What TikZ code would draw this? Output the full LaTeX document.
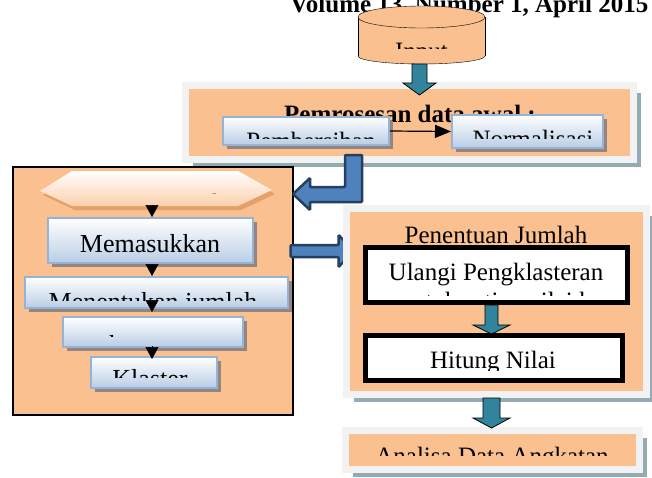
\documentclass[tikz,border=0pt]{standalone}
\usepackage{fontspec}
\setmainfont{Liberation Serif}
\usepackage{tikz}
\usetikzlibrary{arrows.meta,calc,positioning,shadows}
\definecolor{peach}{HTML}{FAC090}
\definecolor{panelgray}{HTML}{F2F2F2}
\definecolor{panelshadow}{HTML}{93ABB2}
\definecolor{boxblue}{HTML}{B9CDE5}
\definecolor{boxedge}{HTML}{95B3D7}
\definecolor{boxshadow}{HTML}{958580}
\definecolor{hexshadow}{HTML}{E3A06A}
\definecolor{tealfill}{HTML}{31849B}
\definecolor{navyfill}{HTML}{4F81BD}
\definecolor{navyedge}{HTML}{243F60}

\begin{document}
\begin{tikzpicture}[x=1pt,y=-1pt,font=\fontsize{25}{30}\selectfont,
  panel/.style={draw=panelgray,line width=7pt,fill=peach,inner sep=0pt,drop shadow={shadow xshift=7.5pt,shadow yshift=-7.5pt,fill=panelshadow,opacity=1}},
  bluebox/.style={draw=boxedge,line width=2pt,top color=white,bottom color=boxblue,inner sep=0pt,drop shadow={shadow xshift=4pt,shadow yshift=-4pt,fill=boxshadow,opacity=1}},
  whitebox/.style={draw=black,line width=5pt,fill=white,inner sep=0pt},
  hexa/.style={top color=white,bottom color=peach!75,drop shadow={shadow xshift=3pt,shadow yshift=-4pt,fill=hexshadow,opacity=1}},
  tealarrow/.style={fill=tealfill,draw=black,line width=0.8pt},
  navyarrow/.style={fill=navyfill,draw=navyedge,line width=2.5pt,rounded corners=1pt},
  tri/.style={-{Triangle[width=13pt,length=12pt]},line width=0.5pt},
  txt/.style={anchor=base,inner sep=0pt},
  colfont/.style={font=\fontsize{26}{30}\selectfont}]
\useasboundingbox (0,0) rectangle (652,477);
\clip (0,0) rectangle (652,477);
\node[anchor=base west,inner sep=0pt,font=\fontsize{25}{30}\selectfont\bfseries] (hdr) at (290,12) {Volume 13, Number 1, April 2015};

\draw[fill=peach] (421.5,56) ellipse[x radius=63.5,y radius=8];
\fill[peach] (358,17) rectangle (485,56);
\draw (358,17) -- (358,56) (485,17) -- (485,56);
\draw[fill=peach] (421.5,17) ellipse[x radius=63.5,y radius=11];
\begin{scope}\clip (358,30) rectangle (485,48); \node[txt] (inlbl) at (421.5,59) {Input}; \end{scope}
\coordinate (inbot) at (419.5,64);

\node[panel,minimum width=448,minimum height=74] (pre) at (409.5,122.5) {};
\draw[tealarrow,shift={(inbot)}] (-7.5,0) -- (-7.5,19) -- (-16.5,19) -- (0,31) -- (16.5,19) -- (7.5,19) -- (7.5,0) -- cycle;
\node[txt,font=\fontsize{25}{30}\selectfont\bfseries] (pretitle) at (410,122) {Pemrosesan data awal :};
\node[bluebox,minimum width=166,minimum height=28] (pemb) at (306,131) {};
\begin{scope}\clip (224,118) rectangle (388,138); \node[txt] (pembtxt) at (311,149) {Pembersihan}; \end{scope}
\node[bluebox,minimum width=151,minimum height=33] (norm) at (527.5,131.5) {};
\begin{scope}\clip (453,116) rectangle (602,138); \node[txt] (normtxt) at (533,147) {Normalisasi}; \end{scope}
\draw[-{Triangle[width=13pt,length=16pt]},line width=1.2pt] (pemb.east) -- (norm.west);

\node[draw,line width=1.2pt,fill=peach,minimum width=280,minimum height=248,inner sep=0pt] (flow) at (153,291) {};
\coordinate (elb) at (353.5,155);
\draw[navyarrow,shift={(elb)}] (-8.5,0) -- (8.5,0) -- (8.5,47) -- (-43.5,47) -- (-43.5,55) -- (-60.5,39) -- (-43.5,23) -- (-43.5,32) -- (-8.5,32) -- cycle;

\path[hexa] (40,191) -- (72,171) -- (238,171) -- (272,190) -- (238,206) -- (72,206) -- cycle;
\begin{scope}\clip (40,171) rectangle (272,193); \node[txt] (hextxt) at (160,211) {Data Mentah}; \end{scope}
\coordinate (hexbot) at (152,206);

\node[bluebox,minimum width=205,minimum height=45] (mem) at (150.5,240.5) {};
\node[txt,colfont] (memtxt) at (150,252) {Memasukkan};
\node[bluebox,minimum width=263,minimum height=31] (ment) at (156.5,292.5) {};
\begin{scope}\clip (26,278) rectangle (287,300); \node[txt,colfont] (menttxt) at (153,310) {Menentukan jumlah}; \end{scope}
\node[bluebox,minimum width=180,minimum height=30] (km) at (153,332) {};
\begin{scope}\clip (64,318) rectangle (242,336); \node[txt,colfont] (kmtxt) at (153,353) {k-means}; \end{scope}
\node[bluebox,minimum width=126,minimum height=31] (kl) at (154,372.5) {};
\begin{scope}\clip (92,358) rectangle (216,377); \node[txt,colfont] (kltxt) at (150,387) {Klaster}; \end{scope}
\draw[tri] (hexbot) -- (mem.north -| hexbot);
\draw[tri] (mem.south -| hexbot) -- (ment.north -| hexbot);
\draw[tri] ([yshift=8pt]ment.south -| hexbot) -- ([yshift=4pt]km.north -| hexbot);
\draw[tri] ([yshift=2pt]km.south -| hexbot) -- ([yshift=-3pt]kl.north -| hexbot);

\path (flow.east) ++(-3,-40) coordinate (rarr);
\draw[navyarrow,shift={(rarr)}] (0,-6) -- (48,-6) -- (48,-16) -- (63,0) -- (48,16) -- (48,6) -- (0,6) -- cycle;

\node[panel,minimum width=300,minimum height=186] (pen) at (496.5,301.5) {};
\node[txt] (pentitle) at (496,243) {Penentuan Jumlah};
\node[whitebox,minimum width=262,minimum height=55] (ul) at (496.5,275) {};
\node[txt] (ultxt) at (496,280) {Ulangi Pengklasteran};
\begin{scope}\clip (368,252) rectangle (625,295); \node[txt] (ultxtb) at (496,309) {untuk setiap nilai k}; \end{scope}
\node[whitebox,minimum width=257,minimum height=45] (hit) at (494,358) {};
\begin{scope}\clip (368,338) rectangle (620,370); \node[txt] (hittxt) at (493,368) {Hitung Nilai}; \end{scope}
\draw[tealarrow,shift={([xshift=-5pt]ul.south)}] (-6.5,0) -- (-6.5,20) -- (-18.5,20) -- (0,29) -- (18.5,20) -- (6.5,20) -- (6.5,0) -- cycle;

\node[panel,minimum width=294,minimum height=39] (ana) at (492.5,450) {};
\begin{scope}\clip (349,434) rectangle (636,455); \node[txt] (anatxt) at (492,464) {Analisa Data Angkatan}; \end{scope}
\draw[tealarrow,shift={([xshift=-5pt]pen.south)}] (-8.5,0) -- (-8.5,20) -- (-18.5,20) -- (0,30) -- (18.5,20) -- (8.5,20) -- (8.5,0) -- cycle;
\end{tikzpicture}
\end{document}
